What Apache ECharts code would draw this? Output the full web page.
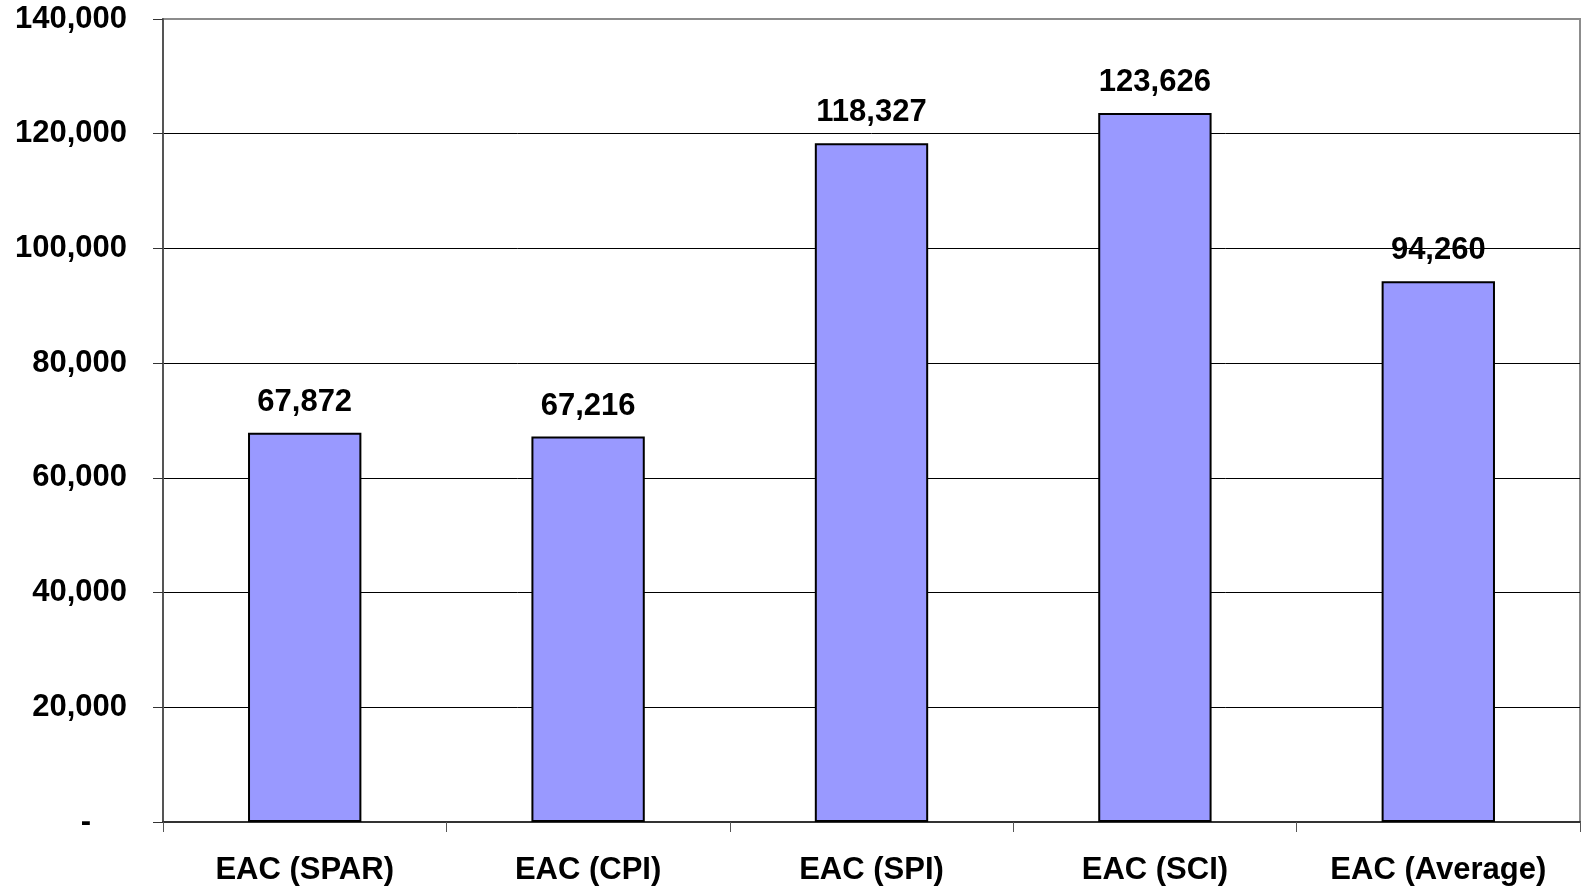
<!DOCTYPE html>
<html>
<head>
<meta charset="utf-8">
<script src="https://cdn.jsdelivr.net/npm/echarts@6/dist/echarts.min.js"></script>
<style>
  html, body { margin: 0; padding: 0; background: #fff; }
  #chart { width: 1581px; height: 893px; }
</style>
</head>
<body>
<div id="chart"></div>
<script>
// categories and values
const categories = ['EAC (SPAR)', 'EAC (CPI)', 'EAC (SPI)', 'EAC (SCI)', 'EAC (Average)']
const eacValues = [67872, 67216, 118327, 123626, 94260]
const yTicks = { min: 0, max: 140000, interval: 20000 }

const font = 'Liberation Sans, Arial, sans-serif'
const fmt = v => v.toLocaleString('en-US')

const chart = echarts.init(document.getElementById('chart'))
chart.setOption({
  animation: false,
  grid: {
    left: 163, right: 1, top: 19, bottom: 71,
    show: true, borderColor: '#8c8c8c', borderWidth: 2
  },
  xAxis: {
    type: 'category',
    data: categories,
    axisLine: { lineStyle: { color: '#333', width: 2 } },
    axisTick: { show: true, length: 10, lineStyle: { color: '#555' } },
    axisLabel: {
      margin: 33, color: '#000', fontFamily: font,
      fontWeight: 'bold', fontSize: 31
    }
  },
  yAxis: {
    type: 'value',
    min: yTicks.min, max: yTicks.max, interval: yTicks.interval,
    axisLine: { show: true, lineStyle: { color: '#555', width: 2 } },
    axisTick: { show: true, length: 10, lineStyle: { color: '#333' } },
    splitLine: {
      lineStyle: {
        color: ['#000', '#000', '#000', '#000', '#000', '#000', '#000', '#8c8c8c'],
        width: 1
      }
    },
    axisLabel: {
      margin: 36, color: '#000', fontFamily: font,
      fontWeight: 'bold', fontSize: 31,
      formatter: v => v === 0 ? '{dash|-}' : fmt(v),
      rich: {
        dash: { fontFamily: font, fontWeight: 'bold', fontSize: 31, padding: [0, 36, 0, 0] }
      }
    }
  },
  series: [{
    type: 'bar',
    data: eacValues,
    barWidth: '40%',
    itemStyle: { color: '#9999ff', borderColor: '#000', borderWidth: 2 },
    label: {
      show: true, position: 'top', distance: 15,
      color: '#000', fontFamily: font, fontWeight: 'bold', fontSize: 31,
      formatter: p => fmt(p.value)
    }
  }]
})
</script>
</body>
</html>
